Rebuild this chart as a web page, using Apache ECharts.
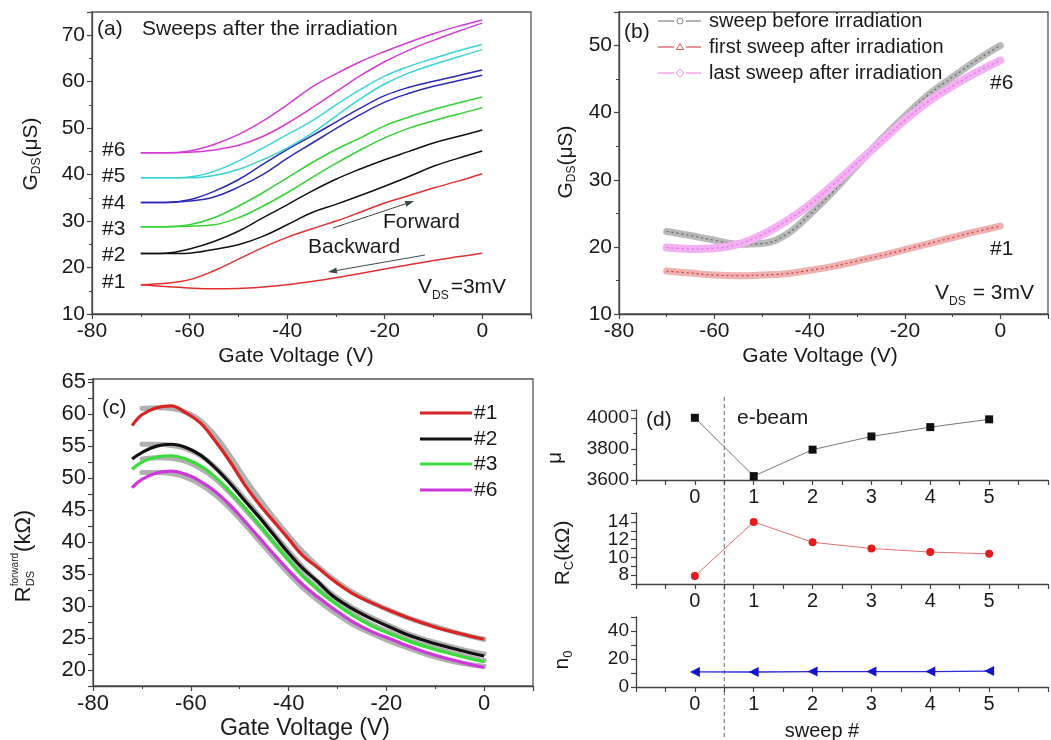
<!DOCTYPE html>
<html><head><meta charset="utf-8">
<script src="https://cdn.jsdelivr.net/npm/echarts@6/dist/echarts.min.js"></script>
<style>html,body{margin:0;padding:0;background:#fff}#c{width:1051px;height:740px}</style>
</head><body><div id="c"></div>
<script>
// ---------- panel (a): sweeps after the irradiation (forward / backward) ----------
const aX = [-70,-65,-60,-55,-50,-45,-40,-35,-30,-25,-20,-15,-10,-5,0];
const a1Fwd = [16.3,16.6,17.4,19.3,21.8,24.3,26.5,28.3,30.0,31.9,33.9,35.5,37.1,38.6,40.2];
const a1Bwd = [16.3,15.9,15.6,15.45,15.5,15.8,16.3,17.0,17.8,18.7,19.7,20.6,21.5,22.3,23.1];
const a2Fwd = [23.0,23.1,24.0,25.6,27.8,30.7,33.5,36.4,39.0,41.2,43.2,45.0,46.8,48.2,49.6];
const a2Bwd = [23.0,23.0,23.1,23.9,24.9,26.7,29.2,31.8,33.6,35.5,37.5,39.6,41.8,43.5,45.1];
const a3Fwd = [28.8,28.8,29.2,30.7,33.2,36.1,39.3,42.5,45.4,47.9,50.5,52.4,54.0,55.4,56.7];
const a3Bwd = [28.8,28.8,28.9,29.2,30.7,33.2,36.1,39.3,42.4,45.3,47.9,50.0,51.6,53.0,54.4];
const a4Fwd = [34.0,34.0,34.6,36.4,38.9,42.2,45.4,48.3,51.3,54.3,57.0,58.8,60.1,61.3,62.5];
const a4Bwd = [34.0,34.0,34.3,35.2,37.3,40.0,43.5,46.7,49.9,52.9,55.6,57.5,59.0,60.2,61.4];
const a5Fwd = [39.3,39.3,39.5,40.7,42.9,45.7,48.6,51.5,55.0,58.3,61.2,63.3,65.0,66.6,68.0];
const a5Bwd = [39.3,39.3,39.3,39.8,41.1,43.2,45.7,48.8,52.6,56.3,59.5,61.9,63.7,65.3,66.9];
const a6Fwd = [44.7,44.7,45.1,46.5,48.6,51.5,55.0,58.8,61.7,64.3,66.5,68.5,70.3,71.9,73.3];
const a6Bwd = [44.7,44.7,44.8,45.3,46.3,48.2,51.0,54.3,57.8,61.3,64.3,66.8,68.9,70.8,72.6];
// ---------- panel (b) ----------
const bX = [-70,-65,-60,-55,-50,-45,-40,-35,-30,-25,-20,-15,-10,-5,0];
const bBefore = [22.3,21.7,21.0,20.4,20.5,21.8,24.8,28.3,32.2,36.0,39.5,42.7,45.3,47.8,50.0];
const bFirst  = [16.4,16.1,15.8,15.7,15.8,16.0,16.5,17.1,17.9,18.7,19.6,20.5,21.4,22.3,23.1];
const bLast   = [19.9,19.7,19.8,20.4,21.8,23.8,26.3,29.3,32.5,35.7,38.9,41.7,44.0,46.0,47.8];
// ---------- panel (c): fits (lines) and measured points (circles) ----------
const cX = [-72,-70,-67,-64,-61,-58,-55,-52,-49,-46,-43,-40,-37,-34,-31,-27,-23,-19,-15,-10,-5,0];
const c1Fit = [58.2,59.9,61.0,61.3,60.2,58.6,55.8,52.6,49.0,45.9,43.2,40.5,37.8,36.0,34.1,32.0,30.5,29.2,28.0,26.7,25.7,24.8];
const c2Fit = [53.0,54.0,55.0,55.3,54.8,53.6,51.6,49.2,46.5,43.9,41.1,38.3,35.8,33.8,31.6,29.6,28.0,26.6,25.3,24.1,23.1,22.2];
const c3Fit = [51.4,52.5,53.3,53.5,53.0,51.9,50.2,47.9,45.4,42.7,39.9,37.2,34.6,32.6,30.7,28.6,26.9,25.6,24.4,23.2,22.2,21.3];
const c6Fit = [48.5,49.8,50.8,51.1,50.6,49.5,47.9,45.8,43.3,40.7,38.1,35.6,33.3,31.4,29.7,27.6,26.0,24.8,23.6,22.3,21.3,20.4];
const cPtX = [-70,-67,-64,-61,-58,-55,-52,-49,-46,-43,-40,-37,-34,-31,-27,-23,-19,-15,-10,-5,0];
const c1Pts = [60.9,61.0,60.9,60.3,59.0,56.6,53.5,50.0,46.8,43.8,41.0,38.4,36.2,34.3,32.2,30.6,29.2,28.0,26.8,25.7,24.8];
const c2Pts = [55.3,55.3,55.1,54.6,53.5,51.7,49.4,46.8,44.1,41.3,38.6,36.0,33.8,31.8,29.8,28.2,26.8,25.5,24.3,23.3,22.5];
const c3Pts = [53.0,53.2,53.1,52.6,51.5,49.9,47.7,45.2,42.6,39.9,37.3,34.8,32.7,30.9,28.8,27.1,25.8,24.6,23.4,22.4,21.5];
const c6Pts = [50.9,50.9,50.7,50.1,49.0,47.4,45.3,42.8,40.2,37.6,35.1,32.8,30.9,29.2,27.2,25.7,24.4,23.3,22.0,21.1,20.6];
const cLegend = ['#1','#2','#3','#6'];
// ---------- panel (d) ----------
const sweep = [0,1,2,3,4,5];
const mu = [4000,3625,3795,3880,3940,3990];
const rc = [7.9,14.0,11.7,11.0,10.6,10.4];
const n0 = [10.8,10.7,11.0,11.0,11.0,11.4];
const ebeamAt = 0.5;

const FF = "'Liberation Sans', Arial, Helvetica, sans-serif";
const INK = '#1a1a1a';
const AX = '#444';
const pair = (xs, ys) => xs.map((x, i) => [x, ys[i]]);

const chart = echarts.init(document.getElementById('c'), null, {renderer: 'canvas'});

function vAxis(gi, min, max, interval, fmt, fs, extra) {
  return Object.assign({
    type: 'value', gridIndex: gi, min, max, interval,
    axisLine: {show: true, onZero: false, lineStyle: {color: AX, width: 1.3}},
    axisTick: {show: true, length: 5, lineStyle: {color: AX, width: 1.2}},
    minorTick: {show: false},
    splitLine: {show: false},
    axisLabel: {fontSize: fs, color: INK, fontFamily: FF, margin: 7, formatter: fmt}
  }, extra || {});
}
const minor = {show: true, splitNumber: 2, length: 3, lineStyle: {color: AX, width: 1}};

const gateFmt = v => (v > 0 ? '' : String(v));
const grids = [
  {left: 92, top: 12, width: 439, height: 302, show: true, borderColor: '#555', borderWidth: 1.3},
  {left: 619, top: 12, width: 435, height: 302, show: true, borderColor: '#555', borderWidth: 1.3},
  {left: 93, top: 379, width: 440, height: 307, show: true, borderColor: '#555', borderWidth: 1.3},
  {left: 636, top: 410, width: 420, height: 70},
  {left: 636, top: 513, width: 420, height: 71},
  {left: 636, top: 617, width: 420, height: 70}
];
const dXfmt = v => (Number.isInteger(v) && v >= 0 && v <= 5 ? String(v) : '');
const xAxes = [
  vAxis(0, -80, 10, 20, gateFmt, 21, {minorTick: minor}),
  vAxis(1, -80, 10, 20, gateFmt, 21, {minorTick: minor}),
  vAxis(2, -80, 10, 20, gateFmt, 22, {minorTick: minor}),
  vAxis(3, -1, 6, 0.5, dXfmt, 20),
  vAxis(4, -1, 6, 0.5, dXfmt, 20),
  vAxis(5, -1, 6, 0.5, dXfmt, 20)
];
const yAxes = [
  vAxis(0, 10, 75, 10, v => (v <= 70 ? String(v) : ''), 21, {minorTick: minor}),
  vAxis(1, 10, 55, 10, v => (v <= 50 ? String(v) : ''), 21, {minorTick: minor}),
  vAxis(2, 17.5, 65.5, 2.5, v => (v % 5 === 0 ? String(v) : ''), 22),
  vAxis(3, 3600, 4050, 200, v => (v <= 4000 ? String(v) : ''), 19, {minorTick: minor}),
  vAxis(4, 7, 15, 1, v => (v % 2 === 0 && v >= 8 && v <= 14 ? String(v) : ''), 19),
  vAxis(5, 0, 50, 10, v => (v % 20 === 0 && v <= 40 ? String(v) : ''), 19)
];

const series = [];
function line(gi, data, color, width, extra) {
  series.push(Object.assign({
    type: 'line', xAxisIndex: gi, yAxisIndex: gi, data, showSymbol: false, symbol: 'none',
    smooth: 0.4, silent: true, animation: false,
    lineStyle: {color, width}
  }, extra || {}));
}
// (a)
const aCols = ['#e0302e', '#111111', '#33d233', '#2a2ab4', '#3ad4d4', '#d63ad6'];
const aF = [a1Fwd, a2Fwd, a3Fwd, a4Fwd, a5Fwd, a6Fwd];
const aB = [a1Bwd, a2Bwd, a3Bwd, a4Bwd, a5Bwd, a6Bwd];
for (let i = 0; i < 6; i++) {
  line(0, pair(aX, aF[i]), aCols[i], 1.5);
  line(0, pair(aX, aB[i]), aCols[i], 1.5);
}
// (b) bands of hollow markers
line(1, pair(bX, bBefore), '#b8b8b8', 7, {lineStyle: {color: '#b8b8b8', width: 7, cap: 'round'}});
line(1, pair(bX, bBefore), '#666', 1.2, {lineStyle: {color: '#666', width: 1.2, type: [2, 3]}});
line(1, pair(bX, bLast), '#f3b0f3', 8, {lineStyle: {color: '#f3b0f3', width: 8, cap: 'round'}});
line(1, pair(bX, bLast), '#e07ae0', 1.2, {lineStyle: {color: '#dc72dc', width: 1.2, type: [2, 3]}});
line(1, pair(bX, bFirst), '#f0b0b0', 7, {lineStyle: {color: '#f0b0b0', width: 7, cap: 'round'}});
line(1, pair(bX, bFirst), '#c03a3a', 1.2, {lineStyle: {color: '#c04040', width: 1.2, type: [2, 3]}});
// (c)
const cPts = [c1Pts, c2Pts, c3Pts, c6Pts];
const cFit = [c1Fit, c2Fit, c3Fit, c6Fit];
const cCols = ['#d92424', '#111111', '#38dd38', '#cc38dc'];
cPts.forEach(p => line(2, pair(cPtX, p), '#b8b8b8', 5, {lineStyle: {color: '#b0b0b0', width: 5, cap: 'round'}}));
cFit.forEach((f, i) => line(2, pair(cX, f), cCols[i], 3.2));
// (d)
line(3, pair(sweep, mu), '#777', 1, {showSymbol: true, symbol: 'rect', symbolSize: 8, smooth: false, itemStyle: {color: '#111'}});
line(4, pair(sweep, rc), '#e07070', 1, {showSymbol: true, symbol: 'circle', symbolSize: 8, smooth: false, itemStyle: {color: '#e01c1c'}});
line(5, pair(sweep, n0), '#2a2ad8', 1.3, {showSymbol: true, symbol: 'triangle', symbolRotate: 90, symbolSize: 10, smooth: false, itemStyle: {color: '#1414c8'}});

chart.setOption({
  backgroundColor: '#fff', animation: false,
  grid: grids, xAxis: xAxes, yAxis: yAxes, series
});

// ---------- annotations ----------
const mctx = document.createElement('canvas').getContext('2d');
function tw(t, s) { mctx.font = s + "px 'Liberation Sans', Arial, sans-serif"; return mctx.measureText(t).width; }
function seq(x0, y0, segs, rot, anchor) {
  let total = 0;
  segs.forEach(g => {
    g.w = Math.max(g.t ? tw(g.t, g.s) : 0, g.t2 ? tw(g.t2, g.s2) : 0);
    total += g.w + (g.gap || 0);
  });
  let x = anchor === 'left' ? 0 : -total / 2;
  const ch = [];
  segs.forEach(g => {
    if (g.t) ch.push({type: 'text', x, y: g.dy || 0, style: {text: g.t, fontSize: g.s, fontFamily: FF, fill: INK, align: 'left', verticalAlign: 'middle'}});
    if (g.t2) ch.push({type: 'text', x, y: g.dy2 || 0, style: {text: g.t2, fontSize: g.s2, fontFamily: FF, fill: INK, align: 'left', verticalAlign: 'middle'}});
    x += g.w + (g.gap || 0);
  });
  return {type: 'group', x: x0, y: y0, rotation: rot || 0, children: ch, silent: true};
}
function T(x, y, text, s, align) {
  return {type: 'text', x, y, silent: true, style: {text, fontSize: s || 21, fontFamily: FF, fill: INK, align: align || 'left', verticalAlign: 'middle'}};
}
function arrow(x1, y1, x2, y2) {
  const a = Math.atan2(y2 - y1, x2 - x1), L = 9, W = 3;
  const bx = x2 - L * Math.cos(a), by = y2 - L * Math.sin(a);
  return [
    {type: 'line', silent: true, shape: {x1, y1, x2: bx, y2: by}, style: {stroke: '#3a4a4a', lineWidth: 1}},
    {type: 'polygon', silent: true, shape: {points: [[x2, y2], [bx + W * Math.sin(a), by - W * Math.cos(a)], [bx - W * Math.sin(a), by + W * Math.cos(a)]]}, style: {fill: '#3a4a4a'}}
  ];
}
const R90 = Math.PI / 2;
const g = [];
// (a)
g.push(T(97, 29, '(a)'), T(142, 29, 'Sweeps after the irradiation'));
[['#6', 150], ['#5', 176.5], ['#4', 203], ['#3', 229], ['#2', 255], ['#1', 282]].forEach(([t, y]) => g.push(T(102, y, t)));
g.push(T(383, 222, 'Forward'), T(308, 247, 'Backward'));
g.push(...arrow(333, 228, 414, 201), ...arrow(425, 255, 328, 272));
g.push(seq(418, 287, [{t: 'V', s: 21}, {t: 'DS', s: 12, dy: 9, gap: 2}, {t: '=3mV', s: 21}], 0, 'left'));
g.push(T(296, 356, 'Gate Voltage (V)', 21, 'center'));
g.push(seq(31, 154, [{t: 'G', s: 21}, {t: 'DS', s: 12, dy: 6}, {t: '(μS)', s: 21}], R90));
// (b)
g.push(T(624, 32, '(b)'));
const bLeg = [
  {y: 21, c: '#8a8a8a', shape: 'circle', t: 'sweep before irradiation'},
  {y: 47, c: '#d45a5a', shape: 'tri', t: 'first sweep after irradiation'},
  {y: 73, c: '#ee96ee', shape: 'dia', t: 'last sweep after irradiation'}
];
bLeg.forEach(l => {
  g.push({type: 'line', silent: true, shape: {x1: 658, y1: l.y, x2: 674, y2: l.y}, style: {stroke: l.c, lineWidth: 1.3}});
  g.push({type: 'line', silent: true, shape: {x1: 686, y1: l.y, x2: 701, y2: l.y}, style: {stroke: l.c, lineWidth: 1.3}});
  let sh;
  if (l.shape === 'circle') sh = {type: 'circle', shape: {cx: 680, cy: l.y, r: 3}};
  else if (l.shape === 'tri') sh = {type: 'polygon', shape: {points: [[680, l.y - 3.5], [683.5, l.y + 2.5], [676.5, l.y + 2.5]]}};
  else sh = {type: 'polygon', shape: {points: [[680, l.y - 4], [684, l.y], [680, l.y + 4], [676, l.y]]}};
  sh.silent = true; sh.style = {stroke: l.c, fill: 'none', lineWidth: 1};
  g.push(sh);
  g.push(T(709, l.y, l.t, 20));
});
g.push(T(990, 83, '#6'), T(990, 249, '#1'));
g.push(seq(935, 293, [{t: 'V', s: 21}, {t: 'DS', s: 12, dy: 9, gap: 7}, {t: '= 3mV', s: 21}], 0, 'left'));
g.push(T(820, 356, 'Gate Voltage (V)', 21, 'center'));
g.push(seq(566, 162, [{t: 'G', s: 21}, {t: 'DS', s: 12, dy: 6}, {t: '(μS)', s: 21}], R90));
// (c)
g.push(T(102, 408, '(c)'));
[413, 439, 464, 490].forEach((y, i) => {
  g.push({type: 'line', silent: true, shape: {x1: 420, y1: y, x2: 472, y2: y}, style: {stroke: cCols[i], lineWidth: 3.2}});
  g.push(T(474, y, cLegend[i], 21));
});
g.push(T(305, 729, 'Gate Voltage (V)', 23, 'center'));
g.push(seq(24, 556, [{t: 'R', s: 22}, {t: 'forward', s: 10, dy: -9, t2: 'DS', s2: 11, dy2: 7, gap: 1}, {t: '(kΩ)', s: 22}], R90));
// (d)
g.push(T(646, 420, '(d)'), T(737, 418, 'e-beam'));
g.push(T(822, 731, 'sweep #', 20, 'center'));
g.push(seq(555, 458, [{t: 'μ', s: 21}], R90));
g.push(seq(563, 553, [{t: 'R', s: 21}, {t: 'C', s: 13, dy: 6}, {t: '(kΩ)', s: 21}], R90));
g.push(seq(562, 660, [{t: 'n', s: 21}, {t: '0', s: 13, dy: 6}], R90));
const ex = chart.convertToPixel({xAxisIndex: 3}, ebeamAt);
g.push({type: 'line', silent: true, shape: {x1: ex, y1: 397, x2: ex, y2: 738}, style: {stroke: '#666', lineWidth: 1, lineDash: [4, 3]}});

chart.setOption({graphic: g});
</script></body></html>
